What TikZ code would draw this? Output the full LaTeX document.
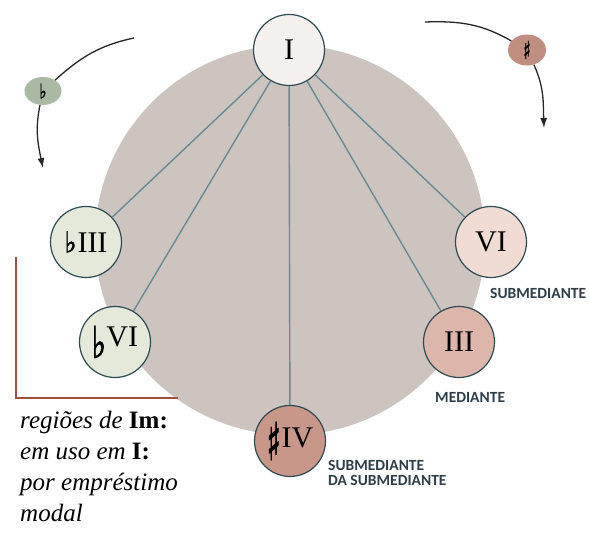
\documentclass[tikz,border=0pt]{standalone}
\usepackage{fontspec}
\usepackage{graphicx}
\setmainfont{Liberation Serif}
\newfontfamily\labelfont{Carlito}
\newfontfamily\musicfont[FakeBold=2]{DejaVu Sans}
\usetikzlibrary{shapes.geometric,arrows.meta}

\definecolor{regiongray}{HTML}{CDC4BF}
\definecolor{rimcol}{HTML}{2F4A52}
\definecolor{spoke}{HTML}{6A8A92}
\definecolor{tonicfill}{HTML}{F3F0EE}
\definecolor{minorfill}{HTML}{E4E9DA}
\definecolor{vifill}{HTML}{F1DCD4}
\definecolor{iiifill}{HTML}{DDB6AB}
\definecolor{ivfill}{HTML}{C9968A}
\definecolor{flatfill}{HTML}{A9B9A3}
\definecolor{sharpfill}{HTML}{BF8E80}
\definecolor{bracketcol}{HTML}{A34E3E}
\definecolor{labelcol}{HTML}{2E3E48}

% accidentals stretched to a given width and height
\newcommand{\flatsign}[2]{\resizebox{#1}{#2}{\musicfont ♭}}
\newcommand{\sharpsign}[2]{\resizebox{#1}{#2}{\musicfont ♯}}

\begin{document}
\begin{tikzpicture}[x=1pt,y=-1pt,
  degree/.style={circle,draw=rimcol,line width=1.2pt,minimum size=71pt,inner sep=0pt,
    font=\fontsize{30}{30}\selectfont},
  link/.style={draw=spoke,line width=1.4pt},
  accbubble/.style={ellipse,inner sep=0pt},
  turn/.style={line width=1.3pt,draw=black!85},
  fnlabel/.style={font=\labelfont\bfseries\fontsize{15.5}{15.5}\selectfont,text=labelcol,
    anchor=west,inner sep=0pt,align=left},
  note/.style={font=\fontsize{25}{31}\selectfont\itshape,anchor=north west,inner sep=0pt,align=left}]
\useasboundingbox (0,0) rectangle (589,534);

% region of the tonic
\fill[regiongray] (290,240) circle[radius=195];

% degrees
\node[degree,fill=tonicfill] (I) at (289,50) {I};
\node[degree,fill=minorfill] (bIII) at (86,242) {\flatsign{12pt}{21pt}\kern1ptIII};
\node[degree,fill=minorfill] (bVI) at (115,342) {\raisebox{-11pt}{\flatsign{14pt}{32pt}}\kern0.5ptVI};
\node[degree,fill=ivfill] (sIV) at (290,441) {\raisebox{-13pt}{\sharpsign{14pt}{38pt}}\kern1ptIV};
\node[degree,fill=vifill] (VI) at (491,242) {VI};
\node[degree,fill=iiifill] (III) at (459,342) {III};

% spokes from the tonic
\foreach \t in {bIII,bVI,sIV,III,VI} \draw[link] (I) -- (\t);

% function labels
\node[fnlabel] (lsub) at (490,293) {SUBMEDIANTE};
\node[fnlabel] (lmed) at (435,397) {MEDIANTE};
\node[fnlabel] (lsubsub) at (328,473) {SUBMEDIANTE\\DA SUBMEDIANTE};

% flat side turn
\node[accbubble,fill=flatfill,minimum width=37pt,minimum height=28pt] (flat) at (43,91) {\flatsign{7pt}{15pt}};
\coordinate (fs) at (134,38);
\coordinate (fe) at (43,168);
\draw[turn] (fs) to[out=192,in=42] (flat);
\draw[turn,-{Latex[length=10pt,width=7pt]}] (flat) to[out=-102,in=102] (fe);

% sharp side turn
\node[accbubble,fill=sharpfill,minimum width=38pt,minimum height=31pt] (sharp) at (527,50) {\sharpsign{7pt}{18pt}};
\coordinate (ss) at (425,22);
\coordinate (se) at (544,128);
\draw[turn] (ss) to[out=2,in=150] (sharp);
\draw[turn,-{Latex[length=10pt,width=7pt]}] (sharp) to[out=-65,in=92] (se);

% bracket for borrowed regions
\coordinate (bt) at (16,257);
\coordinate (bc) at (16,398);
\coordinate (br) at (178,398);
\draw[bracketcol,line width=2pt] (bt) -- (bc) -- (br);

\node[note] (borrow) at (20,411) {regiões de \textbf{\upshape Im:}\\em uso em \textbf{\upshape I:}\\por empréstimo\\modal};
\end{tikzpicture}
\end{document}
